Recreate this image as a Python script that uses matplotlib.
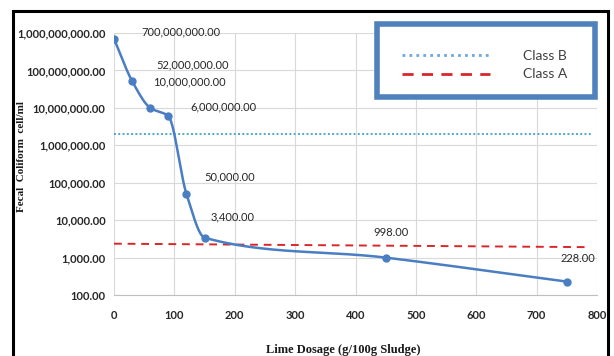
import numpy as np
import matplotlib
matplotlib.use("Agg")
import matplotlib.pyplot as plt
from matplotlib.patches import Rectangle
from matplotlib.lines import Line2D

# data
dosage = [0, 30, 60, 90, 120, 150, 450, 750]
coliform = [700000000, 52000000, 10000000, 6000000, 50000, 3400, 998, 228]
# label offsets (pixels) of the value labels relative to their point
label_dx = [67, 60, 39, 55, 43, 28, 5, 11]
label_dy = [7, 16, 26, 9, 17, 21, 25, 23]

class_b_x = [0, 790]
class_b_y = [2000000, 2000000]
class_a_x = [0, 785]
class_a_y = [2350, 1900]

x_ticks = [0, 100, 200, 300, 400, 500, 600, 700, 800]
y_ticks = [100, 1000, 10000, 100000, 1000000, 10000000, 100000000, 1000000000]

TICK_FONT = "Lato"
BLUE = "#4A7EC2"


def smooth_curve(xs, ys, n=60):
    # monotone cubic (Fritsch-Carlson) through the points, in (x, log y)
    x = np.array(xs, float)
    y = np.log10(np.array(ys, float))
    h = np.diff(x)
    d = np.diff(y) / h
    m = np.zeros_like(y)
    m[0], m[-1] = d[0], d[-1]
    for i in range(1, len(x) - 1):
        if d[i - 1] * d[i] <= 0:
            m[i] = 0
        else:
            w1 = 2 * h[i] + h[i - 1]
            w2 = h[i] + 2 * h[i - 1]
            m[i] = (w1 + w2) / (w1 / d[i - 1] + w2 / d[i])
    out_x, out_y = [], []
    t = np.linspace(0, 1, n)
    for i in range(len(x) - 1):
        h00 = 2 * t ** 3 - 3 * t ** 2 + 1
        h10 = t ** 3 - 2 * t ** 2 + t
        h01 = -2 * t ** 3 + 3 * t ** 2
        h11 = t ** 3 - t ** 2
        out_x.extend(x[i] + t * h[i])
        out_y.extend(h00 * y[i] + h10 * h[i] * m[i] + h01 * y[i + 1] + h11 * h[i] * m[i + 1])
    return np.array(out_x), 10 ** np.array(out_y)


W, H = 614, 356
fig = plt.figure(figsize=(W / 100, H / 100), dpi=100)
ax = fig.add_axes([114 / W, 1 - 295 / H, (597 - 114) / W, (295 - 33) / H])

ax.set_yscale("log")
ax.set_xlim(0, 800)
ax.set_ylim(100, 1e9)
ax.set_xticks(x_ticks)
ax.set_yticks(y_ticks)
ax.set_yticklabels([f"{v:,.2f}" for v in y_ticks])
ax.minorticks_off()
ax.tick_params(length=0, labelsize=8, colors="#262626")
ax.tick_params(axis="x", pad=11)
ax.tick_params(axis="y", pad=6)
for lab in ax.get_xticklabels() + ax.get_yticklabels():
    lab.set_fontfamily(TICK_FONT)
    lab.set_fontweight("bold")
ax.grid(True, color="#D9D9D9", lw=0.8)
ax.set_axisbelow(True)
for s in ("top", "right", "left"):
    ax.spines[s].set_visible(False)
ax.spines["bottom"].set_color("#BFBFBF")

# reference lines
ax.plot(class_b_x, class_b_y, color="#4BACC6", ls=(0, (1, 1.2)), lw=1.4)
ax.plot(class_a_x, class_a_y, color="#D9262B", ls=(0, (4, 3)), lw=1.4)

# smoothed data curve
sx, sy = smooth_curve(dosage, coliform)
ax.plot(sx, sy, color=BLUE, lw=1.8)
ax.plot(dosage, coliform, ls="none", marker="o", ms=5, color=BLUE)

for x, y, dx, dy in zip(dosage, coliform, label_dx, label_dy):
    ax.annotate(f"{y:,.2f}", (x, y), xytext=(dx * 0.72, dy * 0.72),
                textcoords="offset points", ha="center", va="center",
                fontsize=8, family=TICK_FONT, color="#262626")

# axis titles
fig.text(22 / W, 1 - 157 / H, "Fecal  Coliform  cell/ml", rotation=90,
         ha="center", va="center", family="Liberation Serif",
         fontweight="bold", fontsize=8, color="#1a1a1a")
fig.text(343 / W, 1 - 350 / H, "Lime Dosage (g/100g Sludge)",
         ha="center", va="center", family="Liberation Serif",
         fontweight="bold", fontsize=9, color="#1a1a1a")

# legend box drawn by hand to match the thick blue frame
fig.patches.append(Rectangle((377 / W, 1 - 97 / H), (595 - 377) / W, (97 - 24) / H,
                             transform=fig.transFigure, fill=True, facecolor="white",
                             edgecolor="#4F81BD", lw=4, zorder=5))
handles = [Line2D([], [], color="#6FA8DC", ls=(0, (1, 1.5)), lw=2),
           Line2D([], [], color="#D9262B", ls=(0, (4, 3)), lw=2)]
leg = fig.legend(handles, ["Class B", "Class A"], frameon=False,
                 loc="center left", bbox_to_anchor=(390 / W, 1 - 65 / H),
                 prop={"family": TICK_FONT, "size": 10}, handlelength=6.3,
                 handletextpad=2.4, labelspacing=0.5, labelcolor="#404040")
leg.set_zorder(6)

# black outer frame
fig.patches.append(Rectangle((13 / W, -0.05), (608 - 13) / W, 1.05 - 11 / H,
                             transform=fig.transFigure, fill=False,
                             edgecolor="black", lw=2.2, zorder=10))

fig.savefig("out.png", dpi=100)
